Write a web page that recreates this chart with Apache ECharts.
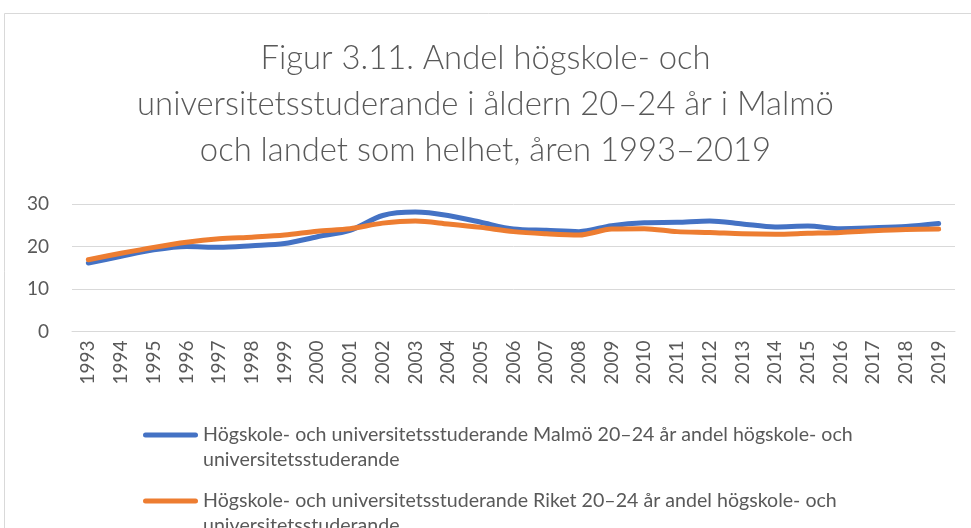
<!DOCTYPE html>
<html>
<head>
	<meta charset="utf-8">
	<title>Figur 3.11</title>
	<script src="https://cdn.jsdelivr.net/npm/echarts@6/dist/echarts.min.js"></script>
	<style>
		html, body { margin: 0; padding: 0; background: #fff; }
		#main { width: 971px; height: 528px; }
	</style>
</head>
<body>
<div id="main"></div>
<script>
	// År på x-axeln
	var years = ['1993', '1994', '1995', '1996', '1997', '1998', '1999', '2000', '2001', '2002',
		'2003', '2004', '2005', '2006', '2007', '2008', '2009', '2010', '2011', '2012',
		'2013', '2014', '2015', '2016', '2017', '2018', '2019'];
	// Andel studerande, Malmö
	var malmo = [16.1, 17.7, 19.2, 20.0, 19.8, 20.2, 20.7, 22.3, 23.8, 27.3,
		28.1, 27.3, 25.7, 24.1, 23.8, 23.5, 24.9, 25.6, 25.7, 26.0,
		25.3, 24.6, 24.8, 24.2, 24.4, 24.7, 25.4];
	// Andel studerande, riket
	var riket = [16.9, 18.4, 19.8, 21.0, 21.8, 22.2, 22.7, 23.6, 24.2, 25.5,
		26.0, 25.3, 24.5, 23.5, 23.0, 22.7, 24.1, 24.2, 23.5, 23.3,
		23.0, 22.9, 23.1, 23.3, 23.7, 24.0, 24.1];
	var yTicks = [0, 10, 20, 30];

	var seriesNames = [
		'Högskole- och universitetsstuderande Malmö 20–24 år andel högskole- och universitetsstuderande',
		'Högskole- och universitetsstuderande Riket 20–24 år andel högskole- och universitetsstuderande'
	];

	var grey = '#595959';
	var chart = echarts.init(document.getElementById('main'));

	// linje i överkant av en 55x50-ruta, så att ikonen hamnar vid första textraden
	var legendIcon = 'path://M0,0 M2.5,10 L52.5,10 A2.5,2.5,0,0,1,52.5,15 L2.5,15 A2.5,2.5,0,0,1,2.5,10 Z M55,50';

	// en legend per serie, så att de hamnar under varandra
	function makeLegend(name, top) {
		return {
			orient: 'vertical',
			left: 138,
			top: top,
			itemWidth: 55,
			itemHeight: 50,
			icon: legendIcon,
			itemStyle: { borderWidth: 0 },
			data: [name],
			// radbrytning före sista ordet, som i originalet
			formatter: function (n) {
				return n.replace(/ (universitetsstuderande)$/, '\n$1');
			},
			textStyle: {
				fontFamily: 'Lato',
				fontSize: 19.6,
				color: grey,
				lineHeight: 25
			}
		};
	}

	var option = {
		animation: false,
		backgroundColor: '#fff',
		textStyle: { fontFamily: 'Lato' },
		graphic: [{
			type: 'rect',
			shape: { x: 4.5, y: 13.5, width: 990, height: 540 },
			style: { fill: 'none', stroke: '#d9d9d9', lineWidth: 1 },
			silent: true
		}],
		title: {
			text: 'Figur 3.11. Andel högskole- och\nuniversitetsstuderande i åldern 20–24 år i Malmö\noch landet som helhet, åren 1993–2019',
			left: 'center',
			top: 30,
			textStyle: {
				fontFamily: 'Lato',
				fontWeight: 300,
				fontSize: 32.8,
				lineHeight: 46,
				color: grey
			}
		},
		legend: [
			makeLegend(seriesNames[0], 417.5),
			makeLegend(seriesNames[1], 483.5)
		],
		grid: {
			left: 72,
			right: 16,
			top: 204,
			bottom: 196.5,
			containLabel: false
		},
		xAxis: {
			type: 'category',
			data: years,
			boundaryGap: true,
			axisLine: { lineStyle: { color: '#d9d9d9', width: 1 } },
			axisTick: { show: false },
			axisLabel: {
				rotate: 90,
				interval: 0,
				margin: 9,
				fontSize: 19,
				color: grey,
				fontFamily: 'Lato'
			}
		},
		yAxis: {
			type: 'value',
			min: yTicks[0],
			max: yTicks[yTicks.length - 1],
			interval: 10,
			axisLine: { show: false },
			axisTick: { show: false },
			splitLine: { lineStyle: { color: '#d9d9d9', width: 1 } },
			axisLabel: {
				margin: 23,
				fontSize: 19,
				color: grey,
				fontFamily: 'Lato'
			}
		},
		series: [
			{
				name: seriesNames[0],
				type: 'line',
				data: malmo,
				smooth: 0.3,
				symbol: 'none',
				lineStyle: { color: '#4472C4', width: 5, cap: 'round' },
				itemStyle: { color: '#4472C4' }
			},
			{
				name: seriesNames[1],
				type: 'line',
				data: riket,
				smooth: 0.3,
				symbol: 'none',
				lineStyle: { color: '#ED7D31', width: 5, cap: 'round' },
				itemStyle: { color: '#ED7D31' }
			}
		]
	};

	chart.setOption(option);
</script>
</body>
</html>
